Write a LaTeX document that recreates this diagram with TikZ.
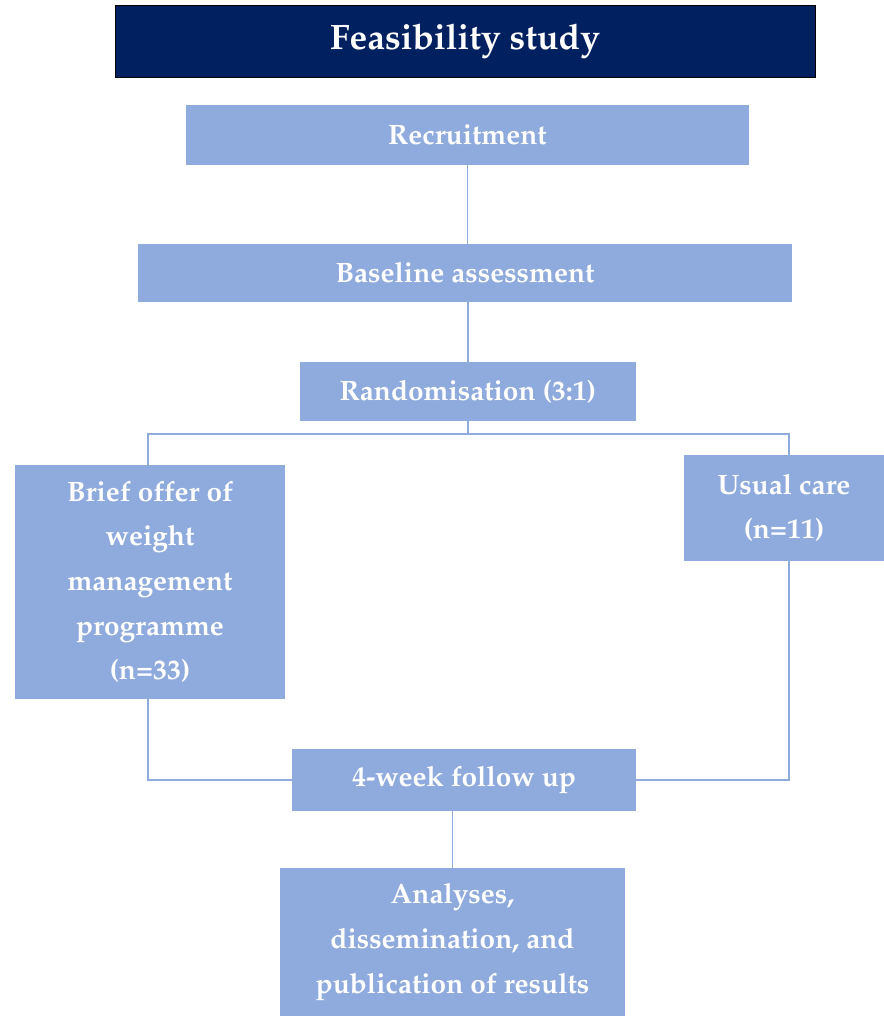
\documentclass[tikz,border=0pt]{standalone}
\usepackage[T1]{fontenc}
\usepackage{mathpazo}
\definecolor{navy}{HTML}{002060}
\definecolor{boxblue}{HTML}{8FAADC}
\begin{document}
\begin{tikzpicture}[x=0.75pt,y=-0.75pt,
  box/.style={fill=boxblue,draw=none,inner sep=0pt,align=center,text=white,
    font=\fontsize{21}{33.5}\selectfont\bfseries},
  link/.style={draw=boxblue,line width=1.4pt}]
\useasboundingbox (0,0) rectangle (884,1016);
\node[fill=navy,draw=black,line width=0.6pt,text=white,inner sep=0pt,
  minimum width=525pt,minimum height=54pt,font=\fontsize{26.5}{30}\selectfont\bfseries]
  (title) at (465,41) {Feasibility study};
\node[box,minimum width=422.25pt,minimum height=45pt] (recruit) at (467.5,135) {Recruitment};
\node[box,minimum width=490.5pt,minimum height=43.5pt] (baseline) at (465,273) {Baseline assessment};
\node[box,minimum width=252pt,minimum height=44.25pt] (random) at (468,391.5) {Randomisation (3:1)};
\node[box,minimum width=202.5pt,minimum height=175.5pt] (brief) at (150,582) {Brief offer of\\weight\\management\\programme\\(n=33)};
\node[box,minimum width=150pt,minimum height=79.5pt] (usual) at (784,508) {Usual care\\(n=11)};
\node[box,minimum width=258pt,minimum height=46.5pt] (follow) at (464,780) {4-week follow up};
\node[box,minimum width=258.75pt,minimum height=111pt] (analyses) at (452.5,942) {Analyses,\\dissemination, and\\publication of results};
\coordinate (bl) at (148,434);
\coordinate (br) at (789,434);
\draw[link] (recruit.south) -- (recruit.south |- baseline.north);
\draw[link] (baseline.south -| random.north) -- (random.north);
\draw[link] (random.south) -- (random.south |- bl);
\draw[link] (bl |- brief.north) -- (bl) -- (br) -- (br |- usual.north);
\draw[link] (bl |- brief.south) -- (bl |- follow.west) -- (follow.west);
\draw[link] (br |- usual.south) -- (br |- follow.east) -- (follow.east);
\draw[link] (follow.south -| analyses.north) -- (analyses.north);
\end{tikzpicture}
\end{document}
